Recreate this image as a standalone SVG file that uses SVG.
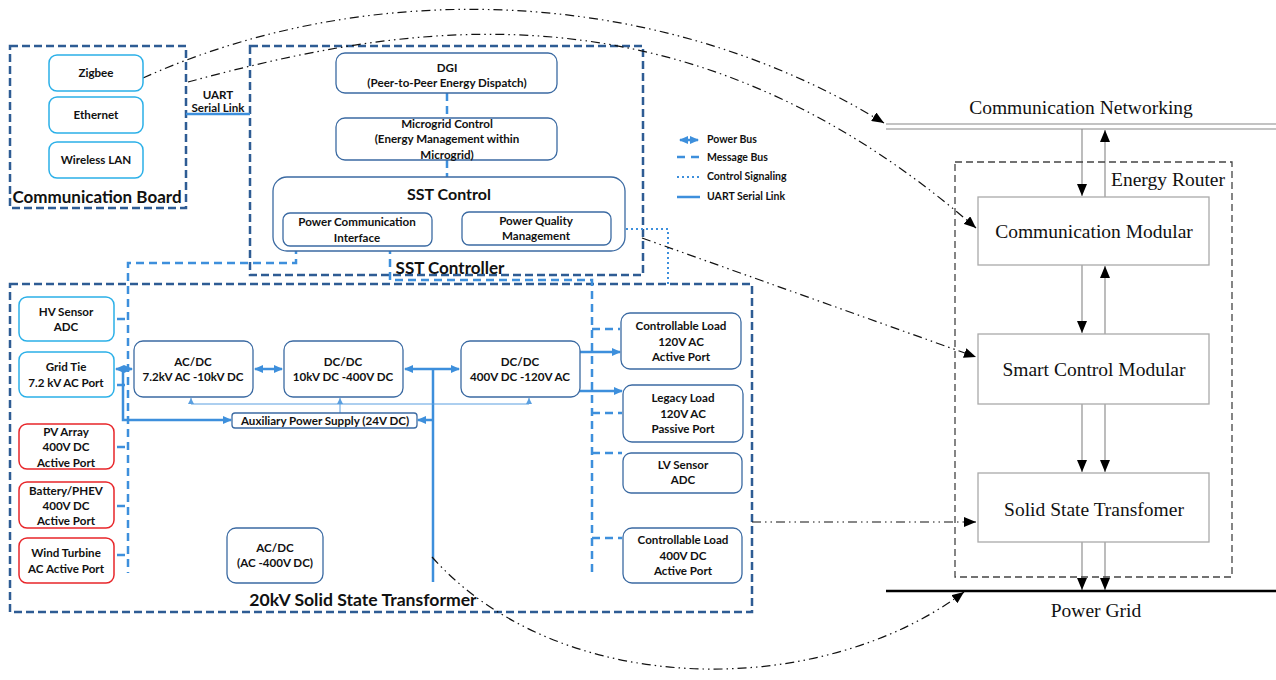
<svg xmlns="http://www.w3.org/2000/svg" width="1276" height="680" viewBox="0 0 1276 680">
<style>
.bd{fill:none;stroke:#2e5c94;stroke-width:2.5;stroke-dasharray:8,4}
.nb{fill:#fff;stroke:#3b6aa2;stroke-width:1.3}
.nc{fill:#fff;stroke:#2bb0e8;stroke-width:1.5}
.nr{fill:#fff;stroke:#e8262a;stroke-width:1.5}
.t{font-family:Lato,"Liberation Sans",sans-serif;font-weight:bold;font-size:11.6px;fill:#111;text-anchor:middle}
.tb{font-family:Lato,"Liberation Sans",sans-serif;font-weight:bold;font-size:17px;fill:#111;text-anchor:middle}
.tl{font-family:Lato,"Liberation Sans",sans-serif;font-weight:bold;font-size:10.5px;fill:#111}
.ts{font-family:"Liberation Serif",serif;font-size:19.5px;fill:#111;text-anchor:middle}
.pb{fill:none;stroke:#3d8fdc;stroke-width:2.5}
.mb{fill:none;stroke:#3d8fdc;stroke-width:2.5;stroke-dasharray:8,5}
.cs{fill:none;stroke:#3d8fdc;stroke-width:2;stroke-dasharray:2,3}
.ax{fill:none;stroke:#5a9fe0;stroke-width:1}
.dd{fill:none;stroke:#111;stroke-width:1.2;stroke-dasharray:9,4,1.5,4,1.5,4}
.gl{fill:none;stroke:#999;stroke-width:1.3}
.rb{fill:#fff;stroke:#aaa;stroke-width:1.3}
</style>
<defs>
<marker id="pa" markerUnits="userSpaceOnUse" markerWidth="9" markerHeight="8" refX="8" refY="4" orient="auto-start-reverse"><path d="M0,0 L9,4 L0,8 Z" fill="#3d8fdc"/></marker>
<marker id="sa" markerUnits="userSpaceOnUse" markerWidth="6" markerHeight="6" refX="6" refY="3" orient="auto-start-reverse"><path d="M0,0 L6,3 L0,6 Z" fill="#5a9fe0"/></marker>
<marker id="ka" markerUnits="userSpaceOnUse" markerWidth="12" markerHeight="10" refX="12" refY="5" orient="auto-start-reverse"><path d="M0,0 L12,5 L0,10 Z" fill="#000"/></marker>
</defs>
<rect width="1276" height="680" fill="#fff"/>

<!-- containers -->
<g id="communication-board">
<rect class="bd" x="10" y="46" width="176" height="162"/>
<text class="tb" x="97" y="203">Communication Board</text>
</g>
<g id="sst-controller">
<rect class="bd" x="250" y="46" width="393" height="229"/>
<text class="tb" x="450" y="274">SST Controller</text>
</g>
<g id="sst-20kv">
<rect class="bd" x="10" y="284" width="742" height="328"/>
<text class="tb" x="363" y="606" style="font-size:17.6px">20kV Solid State Transformer</text>
</g>

<!-- connectors -->
<g id="connectors">
<path class="pb" d="M186,114 H250"/>
<path class="mb" d="M447,93 V118 M447,160 V177"/>
<path class="mb" d="M296,246 V263 H128 V573"/>
<path class="mb" d="M390,246 V280 H592 V573"/>
<path class="mb" d="M117,319 H128 M117,385 H128 M117,447 H128 M117,506 H128 M117,555 H128"/>
<path class="mb" d="M592,329 H620 M592,413 H622 M592,453 H622 M592,538 H622"/>
<path class="cs" d="M611,229 H668 V284"/>
<path class="pb" d="M116,369 H132" marker-start="url(#pa)" marker-end="url(#pa)"/>
<path class="pb" d="M123,369 V420 H231" marker-end="url(#pa)"/>
<path class="pb" d="M255,369 H282" marker-start="url(#pa)" marker-end="url(#pa)"/>
<path class="pb" d="M405,369 H459" marker-start="url(#pa)" marker-end="url(#pa)"/>
<path class="pb" d="M433,369 V582"/>
<path class="pb" d="M433,420 H418" marker-end="url(#pa)"/>
<path class="pb" d="M580,352 H620" marker-end="url(#pa)"/>
<path class="pb" d="M580,391 H622" marker-end="url(#pa)"/>
<path class="ax" d="M191,404 H529"/>
<path class="ax" d="M191,404 V398" marker-end="url(#sa)"/>
<path class="ax" d="M529,404 V398" marker-end="url(#sa)"/>
<path class="ax" d="M340,413 V398" marker-end="url(#sa)"/>
<!-- right diagram arrows -->
<path class="gl" d="M1082,129 V196" marker-end="url(#ka)"/>
<path class="gl" d="M1105,197 V130" marker-end="url(#ka)"/>
<path class="gl" d="M1082,265 V333" marker-end="url(#ka)"/>
<path class="gl" d="M1105,334 V266" marker-end="url(#ka)"/>
<path class="gl" d="M1082,404 V472" marker-end="url(#ka)"/>
<path class="gl" d="M1105,404 V472" marker-end="url(#ka)"/>
<path class="gl" d="M1082,542 V590" marker-end="url(#ka)"/>
<path class="gl" d="M1105,542 V590" marker-end="url(#ka)"/>
<!-- dash-dot links -->
<path class="dd" d="M143,78 C360,-20 650,-20 884,123" marker-end="url(#ka)"/>
<path class="dd" d="M188,82 C400,25 680,-30 976,228" marker-end="url(#ka)"/>
<path class="dd" d="M642,238 L976,357" marker-end="url(#ka)"/>
<path class="dd" d="M752,522 H976" marker-end="url(#ka)"/>
<path class="dd" d="M432,557 C560,700 820,700 964,592" marker-end="url(#ka)"/>
</g>

<!-- communication board nodes -->
<g id="zigbee"><rect class="nc" x="49" y="55" width="94" height="36" rx="8"/><text class="t" x="96" y="77">Zigbee</text></g>
<g id="ethernet"><rect class="nc" x="49" y="97" width="94" height="36" rx="8"/><text class="t" x="96" y="119">Ethernet</text></g>
<g id="wireless-lan"><rect class="nc" x="49" y="142" width="94" height="36" rx="8"/><text class="t" x="96" y="164">Wireless LAN</text></g>
<g id="uart-label"><text class="t" x="218" y="99">UART</text><text class="t" x="218" y="112">Serial Link</text></g>

<!-- SST controller nodes -->
<g id="dgi"><rect class="nb" x="336" y="53" width="221" height="40" rx="9"/><text class="t" x="447" y="72">DGI</text><text class="t" x="447" y="87">(Peer-to-Peer Energy Dispatch)</text></g>
<g id="microgrid-control"><rect class="nb" x="336" y="118" width="221" height="42" rx="9"/><text class="t" x="447" y="128">Microgrid Control</text><text class="t" x="447" y="143">(Energy Management within</text><text class="t" x="447" y="159">Microgrid)</text></g>
<g id="sst-control"><rect class="nb" x="273" y="177" width="352" height="74" rx="14"/><text class="tb" x="449" y="200" style="font-size:16px">SST Control</text></g>
<g id="power-comm-interface"><rect class="nb" x="283" y="213" width="149" height="33" rx="7"/><text class="t" x="357" y="226">Power Communication</text><text class="t" x="357" y="242">Interface</text></g>
<g id="power-quality"><rect class="nb" x="462" y="212" width="149" height="33" rx="7"/><text class="t" x="536" y="225">Power Quality</text><text class="t" x="536" y="240">Management</text></g>

<!-- legend -->
<g id="legend">
<path class="pb" d="M680,140 H698" marker-start="url(#pa)" marker-end="url(#pa)"/>
<path class="mb" d="M677,157 H700" style="stroke-dasharray:8,6"/>
<path class="cs" d="M677,177 H700"/>
<path class="pb" d="M677,197 H700"/>
<text class="tl" x="707" y="143">Power Bus</text>
<text class="tl" x="707" y="161">Message Bus</text>
<text class="tl" x="707" y="180">Control Signaling</text>
<text class="tl" x="707" y="200">UART Serial Link</text>
</g>

<!-- 20kV SST nodes -->
<g id="hv-sensor"><rect class="nc" x="19" y="297" width="95" height="44" rx="8"/><text class="t" x="66" y="316">HV Sensor</text><text class="t" x="66" y="331">ADC</text></g>
<g id="grid-tie"><rect class="nc" x="19" y="352" width="95" height="45" rx="8"/><text class="t" x="66" y="371">Grid Tie</text><text class="t" x="66" y="387">7.2 kV AC Port</text></g>
<g id="pv-array"><rect class="nr" x="19" y="424" width="95" height="45" rx="8"/><text class="t" x="66" y="436">PV Array</text><text class="t" x="66" y="451">400V DC</text><text class="t" x="66" y="467">Active Port</text></g>
<g id="battery"><rect class="nr" x="19" y="482" width="95" height="46" rx="8"/><text class="t" x="66" y="495">Battery/PHEV</text><text class="t" x="66" y="510">400V DC</text><text class="t" x="66" y="525">Active Port</text></g>
<g id="wind-turbine"><rect class="nr" x="19" y="538" width="95" height="45" rx="8"/><text class="t" x="66" y="557">Wind Turbine</text><text class="t" x="66" y="573">AC Active Port</text></g>
<g id="acdc-72kv"><rect class="nb" x="134" y="341" width="119" height="56" rx="9"/><text class="t" x="193" y="366">AC/DC</text><text class="t" x="193" y="381">7.2kV AC -10kV DC</text></g>
<g id="dcdc-10kv"><rect class="nb" x="284" y="341" width="119" height="56" rx="9"/><text class="t" x="343" y="366">DC/DC</text><text class="t" x="343" y="381">10kV DC -400V DC</text></g>
<g id="dcdc-400v"><rect class="nb" x="461" y="341" width="119" height="56" rx="9"/><text class="t" x="520" y="366">DC/DC</text><text class="t" x="520" y="381">400V DC -120V AC</text></g>
<g id="aux-power"><rect class="nb" x="232" y="413" width="185" height="15" rx="3"/><text class="t" x="325" y="425">Auxiliary Power Supply (24V DC)</text></g>
<g id="acdc-400v"><rect class="nb" x="227" y="528" width="96" height="55" rx="9"/><text class="t" x="275" y="552">AC/DC</text><text class="t" x="275" y="567">(AC -400V DC)</text></g>
<g id="load-120v-ac"><rect class="nb" x="621" y="313" width="120" height="56" rx="9"/><text class="t" x="681" y="330">Controllable Load</text><text class="t" x="681" y="346">120V AC</text><text class="t" x="681" y="361">Active Port</text></g>
<g id="legacy-load"><rect class="nb" x="623" y="385" width="120" height="57" rx="9"/><text class="t" x="683" y="402">Legacy Load</text><text class="t" x="683" y="418">120V AC</text><text class="t" x="683" y="433">Passive Port</text></g>
<g id="lv-sensor"><rect class="nb" x="623" y="453" width="119" height="40" rx="8"/><text class="t" x="683" y="469">LV Sensor</text><text class="t" x="683" y="484">ADC</text></g>
<g id="load-400v-dc"><rect class="nb" x="623" y="528" width="119" height="55" rx="9"/><text class="t" x="683" y="544">Controllable Load</text><text class="t" x="683" y="560">400V DC</text><text class="t" x="683" y="575">Active Port</text></g>

<!-- right diagram -->
<g id="communication-networking">
<path d="M886,124 H1276 M886,129 H1276" stroke="#888" stroke-width="1.2" fill="none"/>
<text class="ts" x="1081" y="114">Communication Networking</text>
</g>
<g id="energy-router">
<rect x="955" y="162" width="277" height="415" fill="none" stroke="#444" stroke-width="1.3" stroke-dasharray="7,4"/>
<text class="ts" x="1168" y="186">Energy Router</text>
</g>
<g id="communication-modular"><rect class="rb" x="978" y="197" width="231" height="68"/><text class="ts" x="1094" y="238">Communication Modular</text></g>
<g id="smart-control-modular"><rect class="rb" x="978" y="334" width="231" height="70"/><text class="ts" x="1094" y="376">Smart Control Modular</text></g>
<g id="solid-state-transfomer"><rect class="rb" x="978" y="473" width="231" height="69"/><text class="ts" x="1094" y="516">Solid State Transfomer</text></g>
<g id="power-grid">
<path d="M886,591 H1276" stroke="#000" stroke-width="2.5" fill="none"/>
<text class="ts" x="1096" y="617">Power Grid</text>
</g>
</svg>
